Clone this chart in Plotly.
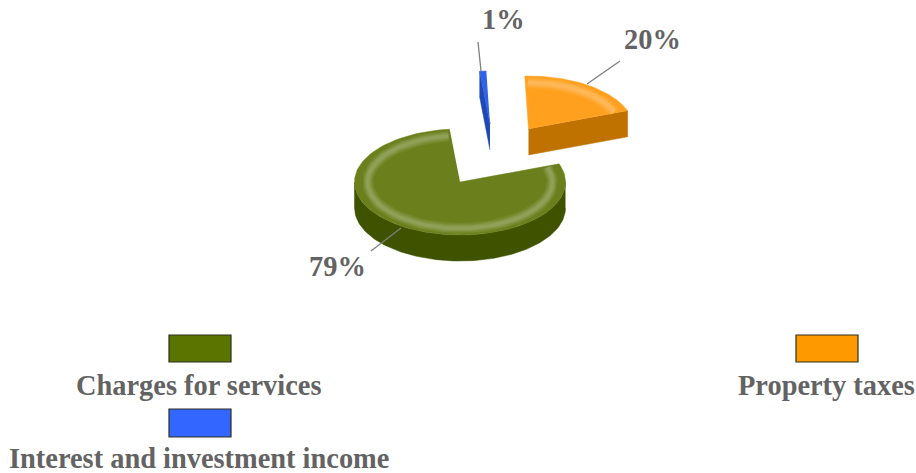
import numpy as np
import plotly.graph_objects as go

# ---- data ----
categories = ["Charges for services", "Interest and investment income", "Property taxes"]
values = [79, 1, 20]
pct_labels = ["79%", "1%", "20%"]

# ---- styling / layout constants ----
W, H = 916, 473
START_DEG = 70          # clockwise from 12 o'clock, where first slice begins
RX, RY, DEPTH = 105.5, 53, 26
APEX = [(460, 182), (490, 124), (528.5, 129)]     # exploded slice origins (px)
TOP = ["#6B801C", "#2F62E6", "#FFA11E"]
SIDE = ["#3F5200", "#1E48B4", "#C07200"]
RIM = ["#AEBD88", "#6E92F0", "#FFCB86"]
SWATCH = ["#5B7400", "#3366FF", "#FF9900"]
SWATCH_BOX = [(169, 335, 231, 362), (169, 409, 231, 437), (796, 335, 858, 362)]
LEG_TXT = [(198.5, 385), (198.5, 458), (826, 385)]
PCT_TXT = [(337, 266), (503, 19), (652, 39)]
LEADER = [((401, 228), (371, 251)), ((481, 71), (478, 42)), ((587, 84), (620, 61))]
TXT = "#636363"
FONT = "Liberation Serif"


def arc(cx, cy, a0, a1, k=1.0, dy=0.0, n=120):
    t = np.radians(np.linspace(a0, a1, n))
    return cx + k * RX * np.sin(t), cy + dy - k * RY * np.cos(t)


fig = go.Figure()


def poly(x, y, color, name):
    fig.add_trace(go.Scatter(x=list(x), y=list(y), mode="lines", fill="toself",
                             fillcolor=color, line=dict(color=color, width=0.5),
                             name=name, hoverinfo="name", showlegend=False))


def stroke(x, y, color, width, op=1.0):
    fig.add_trace(go.Scatter(x=list(x), y=list(y), mode="lines", opacity=op,
                             line=dict(color=color, width=width),
                             hoverinfo="skip", showlegend=False))


spans = []
a = START_DEG
for v in values:
    b = a + 360 * v / sum(values)
    spans.append((a, b))
    a = b

for i, (a0, a1) in enumerate(spans):
    cx, cy = APEX[i]
    name = categories[i]
    # outer wall: the part of the rim that faces the viewer
    lo, hi = max(a0, 90), min(a1, 270)
    if lo < hi:
        xt, yt = arc(cx, cy, lo, hi)
        xb, yb = arc(cx, cy, lo, hi, dy=DEPTH)
        poly(np.r_[xt, xb[::-1]], np.r_[yt, yb[::-1]], SIDE[i], name)
    # cut walls facing the viewer
    if i == 2:
        ex, ey = arc(cx, cy, a1, a1, n=1)
        poly([cx, ex[0], ex[0], cx], [cy, ey[0], ey[0] + DEPTH, cy + DEPTH], SIDE[i], name)
    if i == 1:
        ex, ey = arc(cx, cy, a0, a0, n=1)
        poly([cx, ex[0], ex[0], cx], [cy, ey[0], ey[0] + DEPTH, cy + DEPTH], SIDE[i], name)
    # top face
    xa, ya = arc(cx, cy, a0, a1)
    poly(np.r_[cx, xa], np.r_[cy, ya], TOP[i], name)
    # soft bevel ring
    if i != 1:
        xr, yr = arc(cx, cy, a0 + 1.5, a1 - 1.5, k=0.875)
        for w, op in [(11, 0.12), (8.5, 0.16), (6, 0.2), (3.5, 0.24)]:
            stroke(xr, yr, RIM[i], w, op)

for (p, q) in LEADER:
    stroke([p[0], q[0]], [p[1], q[1]], "#7F7F7F", 1.3)

shapes = [dict(type="rect", x0=b[0], y0=b[1], x1=b[2], y1=b[3], fillcolor=c,
               line=dict(color="#2E2E1E", width=1.2))
          for b, c in zip(SWATCH_BOX, SWATCH)]

ann = []
for t, (x, y) in zip(categories, LEG_TXT):
    ann.append(dict(x=x, y=y, text=f"<b>{t}</b>", showarrow=False,
                    font=dict(family=FONT, size=28.4, color=TXT)))
for t, (x, y) in zip(pct_labels, PCT_TXT):
    ann.append(dict(x=x, y=y, text=f"<b>{t}</b>", showarrow=False,
                    font=dict(family=FONT, size=28.4, color=TXT)))

fig.update_layout(width=W, height=H, autosize=False, margin=dict(l=0, r=0, t=0, b=0),
                  paper_bgcolor="white", plot_bgcolor="white", shapes=shapes, annotations=ann,
                  xaxis=dict(range=[0, W], visible=False, fixedrange=True),
                  yaxis=dict(range=[H, 0], visible=False, fixedrange=True))
fig.write_html("out.html", config=dict(displayModeBar=False),
               post_script="document.body.style.margin='0';")
